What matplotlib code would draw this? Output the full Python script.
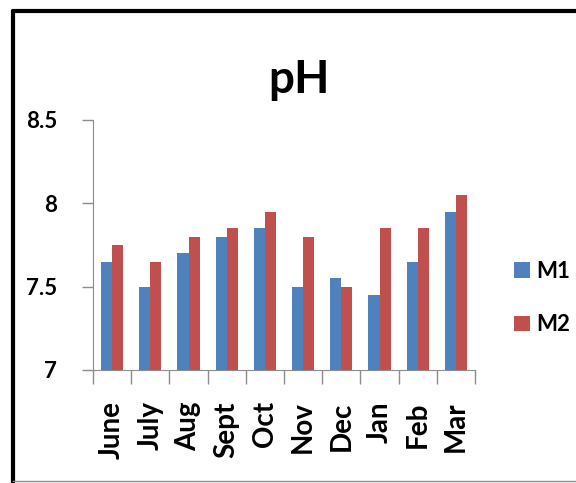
import numpy as np
import matplotlib.pyplot as plt
from matplotlib.lines import Line2D

months = ["June", "July", "Aug", "Sept", "Oct", "Nov", "Dec", "Jan", "Feb", "Mar"]
m1 = [7.65, 7.50, 7.70, 7.80, 7.85, 7.50, 7.55, 7.45, 7.65, 7.95]
m2 = [7.75, 7.65, 7.80, 7.85, 7.95, 7.80, 7.50, 7.85, 7.85, 8.05]

blue = "#4F81BD"
red = "#C0504D"
grey = "#8C8C8C"

plt.rcParams["font.family"] = ["Lato", "DejaVu Sans"]

fig = plt.figure(figsize=(5.76, 4.83), dpi=100)
ax = fig.add_axes([93 / 576, 1 - 370 / 483, (475 - 93) / 576, 250 / 483])

x = np.arange(len(months))
w = 0.29
ax.bar(x - w / 2, m1, w, color=blue, label="M1")
ax.bar(x + w / 2, m2, w, color=red, label="M2")

ax.set_ylim(7, 8.5)
ax.set_xlim(-0.5, len(months) - 0.5)
ax.set_yticks([7, 7.5, 8, 8.5])
ax.set_yticklabels(["7", "7.5", "8", "8.5"], fontsize=16, fontweight="bold")

# category boundaries carry the tick marks, labels sit at the centres
ax.set_xticks(np.arange(len(months) + 1) - 0.5)
ax.set_xticklabels([])
ax.tick_params(axis="x", direction="out", length=10, color=grey, width=1)
ax.tick_params(axis="y", direction="out", length=8, color=grey, width=1, pad=18)
for xi, m in zip(x, months):
    ax.text(xi, -0.125, m, transform=ax.get_xaxis_transform(), rotation=90,
            ha="center", va="top", fontsize=20, fontweight="bold")

for s in ["top", "right"]:
    ax.spines[s].set_visible(False)
for s in ["left", "bottom"]:
    ax.spines[s].set_color(grey)
ax.set_facecolor("none")

fig.text(299 / 576, 1 - 93 / 483, "pH", ha="center", va="baseline",
         fontsize=33, fontweight="bold")

fig.legend(loc="center left", bbox_to_anchor=(514 / 576, 1 - 298 / 483), frameon=False,
           handlelength=0.7, handleheight=0.7, handletextpad=0.3, borderpad=0,
           borderaxespad=0, labelspacing=1.45, prop={"weight": "bold", "size": 16})

# outer chart frame
fig.add_artist(Line2D([13 / 576, 13 / 576], [0, 1 - 11 / 483], color="black", lw=3,
                      solid_capstyle="round"))
fig.add_artist(Line2D([13 / 576, 1.0], [1 - 11 / 483, 1 - 11 / 483], color="black", lw=3,
                      solid_capstyle="round"))
fig.add_artist(Line2D([13 / 576, 1.0], [1 - 481 / 483, 1 - 481 / 483], color=grey, lw=1))

fig.savefig("out.png", dpi=100)
